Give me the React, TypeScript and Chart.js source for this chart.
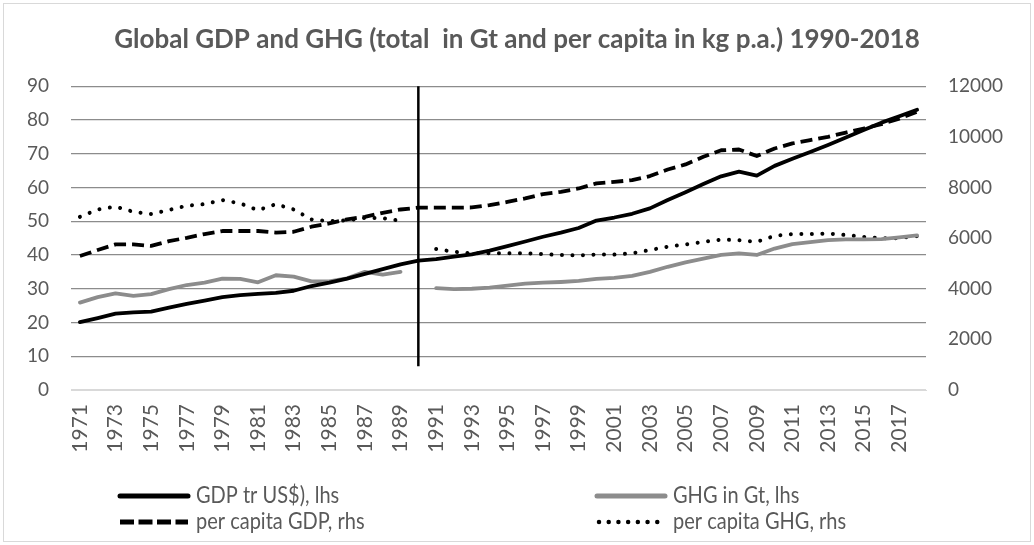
import React, { useEffect, useRef } from 'react';
import { Chart, registerables } from 'chart.js';

Chart.register(...registerables);

const TITLE = 'Global GDP and GHG (total  in Gt and per capita in kg p.a.) 1990-2018';

const years = [
  '1971', '1972', '1973', '1974', '1975', '1976', '1977', '1978', '1979', '1980',
  '1981', '1982', '1983', '1984', '1985', '1986', '1987', '1988', '1989', '1990',
  '1991', '1992', '1993', '1994', '1995', '1996', '1997', '1998', '1999', '2000',
  '2001', '2002', '2003', '2004', '2005', '2006', '2007', '2008', '2009', '2010',
  '2011', '2012', '2013', '2014', '2015', '2016', '2017', '2018',
];

// GDP, trillion US$ (left axis)
const gdpTr = [
  20.1, 21.3, 22.6, 23.0, 23.2, 24.4, 25.5, 26.5, 27.5, 28.1,
  28.5, 28.8, 29.4, 30.8, 31.8, 33.0, 34.4, 35.8, 37.2, 38.3,
  38.8, 39.5, 40.2, 41.3, 42.6, 44.0, 45.4, 46.6, 48.0, 50.2,
  51.1, 52.2, 53.8, 56.3, 58.6, 61.0, 63.3, 64.7, 63.5, 66.4,
  68.5, 70.5, 72.6, 74.8, 77.0, 79.2, 81.1, 83.0,
];

// GHG, Gt (left axis); gap in 1990
const ghgGt = [
  25.9, 27.5, 28.6, 27.9, 28.4, 29.9, 31.1, 31.8, 33.0, 32.9,
  31.9, 34.0, 33.6, 32.2, 32.2, 33.1, 35.0, 34.2, 35.0, null,
  30.2, 29.9, 30.0, 30.3, 30.9, 31.5, 31.8, 32.0, 32.3, 32.9,
  33.2, 33.8, 35.0, 36.5, 37.8, 38.9, 40.0, 40.5, 40.0, 41.9,
  43.2, 43.8, 44.4, 44.6, 44.6, 44.7, 45.2, 45.8,
];

// per capita GDP (right axis)
const perCapitaGdp = [
  5290, 5530, 5750, 5750, 5690, 5880, 6010, 6160, 6280, 6280,
  6280, 6220, 6250, 6450, 6580, 6740, 6840, 7000, 7130, 7200,
  7200, 7200, 7210, 7300, 7430, 7570, 7740, 7830, 7960, 8160,
  8220, 8290, 8450, 8710, 8910, 9210, 9470, 9500, 9240, 9540,
  9740, 9870, 10000, 10170, 10330, 10500, 10720, 10990,
];

// per capita GHG, kg (right axis); gap in 1990
const perCapitaGhg = [
  6840, 7130, 7240, 7040, 6950, 7110, 7280, 7340, 7500, 7370,
  7100, 7340, 7130, 6740, 6670, 6700, 6800, 6790, 6680, null,
  5570, 5460, 5400, 5400, 5400, 5400, 5370, 5330, 5320, 5350,
  5350, 5400, 5530, 5660, 5750, 5850, 5940, 5920, 5850, 6090,
  6160, 6160, 6180, 6120, 6050, 5990, 6000, 6080,
];

const seriesLabels = ['GDP tr US$), lhs', 'GHG in Gt, lhs', 'per capita GDP, rhs', 'per capita GHG, rhs'];

// vertical divider
const MARKER_YEAR = '1990';
const MARKER_TOP = 90;
const MARKER_BOTTOM = 7;

const FONT = "Lato, 'Open Sans', sans-serif";
const TEXT = '#595959';
const GRID = '#8c8c8c';
const GREY_LINE = '#8c8c8c';

const W = 1034;
const H = 545;

export default function App() {
  const ref = useRef<HTMLCanvasElement | null>(null);

  useEffect(() => {
    if (!ref.current) return;

    const borderPlugin = {
      id: 'outerBorder',
      beforeDraw(chart: any) {
        const ctx = chart.ctx;
        ctx.save();
        ctx.fillStyle = '#ffffff';
        ctx.fillRect(0, 0, chart.width, chart.height);
        ctx.strokeStyle = '#d9d9d9';
        ctx.lineWidth = 1;
        ctx.strokeRect(3.5, 3.5, chart.width - 7, chart.height - 7);
        ctx.restore();
      },
    };

    const markerPlugin = {
      id: 'divider',
      afterDatasetsDraw(chart: any) {
        const xs = chart.scales.x;
        const ys = chart.scales.y;
        const idx = chart.data.labels.indexOf(MARKER_YEAR);
        if (idx < 0) return;
        const x = xs.getPixelForValue(idx);
        const ctx = chart.ctx;
        ctx.save();
        ctx.strokeStyle = '#000';
        ctx.lineWidth = 2.5;
        ctx.beginPath();
        ctx.moveTo(x, ys.getPixelForValue(MARKER_TOP));
        ctx.lineTo(x, ys.getPixelForValue(MARKER_BOTTOM));
        ctx.stroke();
        ctx.restore();
      },
    };

    const legendDash: Record<number, number[]> = { 2: [14, 4.5], 3: [0.01, 9.7] };

    const legendPlugin = {
      id: 'gridLegend',
      afterDraw(chart: any) {
        const ctx = chart.ctx;
        const cols = [120, 597];
        const rows = [chart.height - 49, chart.height - 23];
        const sampleLen = 68;
        ctx.save();
        chart.data.datasets.forEach((ds: any, i: number) => {
          const x = cols[i % 2];
          const y = rows[Math.floor(i / 2)];
          ctx.strokeStyle = ds.borderColor;
          ctx.lineWidth = i === 3 ? 4.5 : 5;
          ctx.lineCap = ds.borderCapStyle || 'butt';
          ctx.setLineDash(legendDash[i] || []);
          ctx.beginPath();
          ctx.moveTo(x + (i === 3 ? 2 : 0), y);
          ctx.lineTo(x + sampleLen, y);
          ctx.stroke();
          ctx.setLineDash([]);
          ctx.fillStyle = TEXT;
          ctx.font = `20px ${FONT}`;
          ctx.textBaseline = 'middle';
          ctx.textAlign = 'left';
          ctx.save();
          ctx.translate(x + sampleLen + 8, y);
          ctx.scale(1, 1.15);
          ctx.fillText(ds.label, 0, 0);
          ctx.restore();
        });
        ctx.restore();
      },
    };

    const chart = new Chart(ref.current, {
      type: 'line',
      data: {
        labels: years,
        datasets: [
          {
            label: seriesLabels[0],
            data: gdpTr,
            borderColor: '#000000',
            borderWidth: 3.8,
            borderCapStyle: 'round',
            borderJoinStyle: 'round',
            pointRadius: 0,
            yAxisID: 'y',
          },
          {
            label: seriesLabels[1],
            data: ghgGt,
            borderColor: GREY_LINE,
            borderWidth: 3.8,
            borderCapStyle: 'round',
            borderJoinStyle: 'round',
            pointRadius: 0,
            spanGaps: false,
            yAxisID: 'y',
          },
          {
            label: seriesLabels[2],
            data: perCapitaGdp,
            borderColor: '#000000',
            borderWidth: 3.8,
            borderDash: [12, 6],
            borderCapStyle: 'butt',
            borderJoinStyle: 'round',
            pointRadius: 0,
            yAxisID: 'y1',
          },
          {
            label: seriesLabels[3],
            data: perCapitaGhg,
            borderColor: '#000000',
            borderWidth: 4,
            borderDash: [0.01, 10.5],
            borderCapStyle: 'round',
            borderJoinStyle: 'round',
            pointRadius: 0,
            spanGaps: false,
            yAxisID: 'y1',
          },
        ],
      },
      options: {
        responsive: false,
        animation: false,
        devicePixelRatio: 1,
        layout: { padding: { left: 0, right: 0, top: 0, bottom: 65 } },
        plugins: {
          legend: { display: false },
          tooltip: { enabled: false },
          title: {
            display: true,
            text: TITLE,
            color: TEXT,
            font: { family: FONT, size: 26, weight: 'bold' },
            padding: { top: 24, bottom: 31 },
          },
        },
        scales: {
          x: {
            type: 'category',
            offset: true,
            grid: { display: false, drawTicks: false },
            border: { display: true, color: '#d9d9d9', width: 1 },
            ticks: {
              color: TEXT,
              font: { family: FONT, size: 21 },
              autoSkip: false,
              minRotation: 90,
              maxRotation: 90,
              padding: 14,
              callback: (_v: any, i: number) => (i % 2 === 0 ? years[i] : ''),
            },
            afterFit: (s: any) => {
              s.height = 90;
              s.paddingLeft = 0;
              s.paddingRight = 0;
            },
          },
          y: {
            position: 'left',
            min: 0,
            max: 90,
            grid: {
              drawTicks: false,
              color: (c: any) => (c.tick && c.tick.value === 0 ? '#d9d9d9' : GRID),
              lineWidth: 1.2,
            },
            border: { display: false },
            ticks: {
              stepSize: 10,
              color: TEXT,
              font: { family: FONT, size: 19 },
              padding: 22,
            },
            afterFit: (s: any) => { s.width = 71; },
          },
          y1: {
            position: 'right',
            min: 0,
            max: 12000,
            grid: { display: false, drawTicks: false },
            border: { display: false },
            ticks: {
              stepSize: 2000,
              color: TEXT,
              font: { family: FONT, size: 19 },
              padding: 22,
              callback: (v: any) => String(v),
            },
            afterFit: (s: any) => { s.width = 108; },
          },
        },
      },
      plugins: [borderPlugin, markerPlugin, legendPlugin],
    } as any);

    return () => chart.destroy();
  }, []);

  return (
    <div style={{ position: 'absolute', left: 0, top: 0, width: W, height: H, background: '#fff' }}>
      <canvas ref={ref} width={W} height={H} style={{ display: 'block' }} />
    </div>
  );
}
